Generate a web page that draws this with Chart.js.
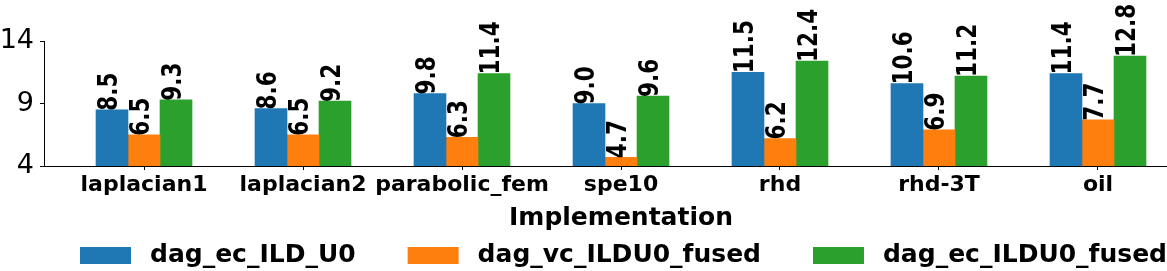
<!DOCTYPE html>
<html>
<head>
<meta charset="utf-8">
<script src="https://cdn.jsdelivr.net/npm/chart.js@4/dist/chart.umd.min.js"></script>
<style>
  html, body { margin: 0; padding: 0; background: #fff; }
  #wrap { width: 1167px; height: 271px; position: relative; }
</style>
</head>
<body>
<div id="wrap"><canvas id="chart"></canvas></div>
<script>
// DATA
const categories = ['laplacian1', 'laplacian2', 'parabolic_fem', 'spe10', 'rhd', 'rhd-3T', 'oil'];
const seriesNames = ['dag_ec_ILD_U0', 'dag_vc_ILDU0_fused', 'dag_ec_ILDU0_fused'];
const ecILDU0 = [8.5, 8.6, 9.8, 9.0, 11.5, 10.6, 11.4];
const vcILDU0Fused = [6.5, 6.5, 6.3, 4.7, 6.2, 6.9, 7.7];
const ecILDU0Fused = [9.3, 9.2, 11.4, 9.6, 12.4, 11.2, 12.8];
const yTicks = [4, 9, 14];
const xTitle = 'Implementation';
const colors = ['#1f77b4', '#ff7f0e', '#2ca02c'];

const FONT = "'DejaVu Sans', sans-serif";

function toPoints(values) {
    return values.map((v, i) => ({ x: i, y: v }));
}

// value labels above each bar, rotated
const barLabels = {
    id: 'barLabels',
    afterDatasetsDraw(chart) {
        const ctx = chart.ctx;
        ctx.save();
        ctx.font = 'bold 27px ' + FONT;
        ctx.fillStyle = '#000';
        ctx.textAlign = 'left';
        ctx.textBaseline = 'middle';
        chart.data.datasets.forEach((ds, di) => {
            chart.getDatasetMeta(di).data.forEach((bar, i) => {
                ctx.save();
                ctx.translate(bar.x - 2.5, bar.y + 1);
                ctx.rotate(-Math.PI / 2);
                ctx.scale(0.8, 1);
                ctx.fillText(ds.data[i].y.toFixed(1), 0, 0);
                ctx.restore();
            });
        });
        ctx.restore();
    }
};

// axis title + legend row at the bottom
const bottomLegend = {
    id: 'bottomLegend',
    afterDraw(chart) {
        const ctx = chart.ctx;
        ctx.save();
        ctx.fillStyle = '#000';
        ctx.textAlign = 'center';
        ctx.textBaseline = 'middle';
        ctx.font = 'bold 25px ' + FONT;
        ctx.fillText(xTitle, 621, 218);

        const boxW = 51, boxH = 17, textGap = 19, itemGap = 52;
        const cy = 255.5;
        const widths = chart.data.datasets.map(ds => boxW + textGap + ctx.measureText(ds.label).width);
        let x = 80;
        chart.data.datasets.forEach((ds, i) => {
            ctx.fillStyle = ds.backgroundColor;
            ctx.fillRect(x, cy - boxH / 2, boxW, boxH);
            ctx.fillStyle = '#000';
            ctx.textAlign = 'left';
            ctx.fillText(ds.label, x + boxW + textGap, cy);
            x += widths[i] + itemGap;
        });
        ctx.restore();
    }
};

const ctx = document.getElementById('chart').getContext('2d');

new Chart(ctx, {
    type: 'bar',
    data: {
        datasets: [
            { label: seriesNames[0], data: toPoints(ecILDU0), backgroundColor: colors[0] },
            { label: seriesNames[1], data: toPoints(vcILDU0Fused), backgroundColor: colors[1] },
            { label: seriesNames[2], data: toPoints(ecILDU0Fused), backgroundColor: colors[2] }
        ]
    },
    options: {
        responsive: true,
        maintainAspectRatio: false,
        animation: false,
        barThickness: 32,
        layout: { padding: { top: 41, right: 0, left: 0, bottom: 0 } },
        plugins: {
            legend: { display: false },
            tooltip: { enabled: false }
        },
        scales: {
            x: {
                type: 'linear',
                offset: false,
                min: -0.629,
                max: 6.434,
                afterBuildTicks: scale => {
                    scale.ticks = categories.map((c, i) => ({ value: i }));
                },
                afterFit: scale => { scale.height = 105; },
                grid: { offset: false, drawOnChartArea: false, drawTicks: true, tickLength: 4, color: '#000', tickWidth: 1 },
                border: { display: true, color: '#000', width: 1 },
                ticks: {
                    autoSkip: false,
                    maxRotation: 0,
                    padding: 2,
                    color: '#000',
                    font: { family: FONT, size: 22, weight: 'bold' },
                    callback: v => categories[v]
                },
                title: { display: false }
            },
            y: {
                min: 4,
                max: 14,
                afterBuildTicks: scale => {
                    scale.ticks = yTicks.map(v => ({ value: v }));
                },
                afterFit: scale => { scale.width = 44; },
                grid: { drawOnChartArea: false, drawTicks: true, tickLength: 4, color: '#000', tickWidth: 1 },
                border: { display: true, color: '#000', width: 1 },
                ticks: {
                    padding: 6,
                    color: '#000',
                    font: { family: FONT, size: 27 }
                }
            }
        }
    },
    plugins: [barLabels, bottomLegend]
});
</script>
</body>
</html>
